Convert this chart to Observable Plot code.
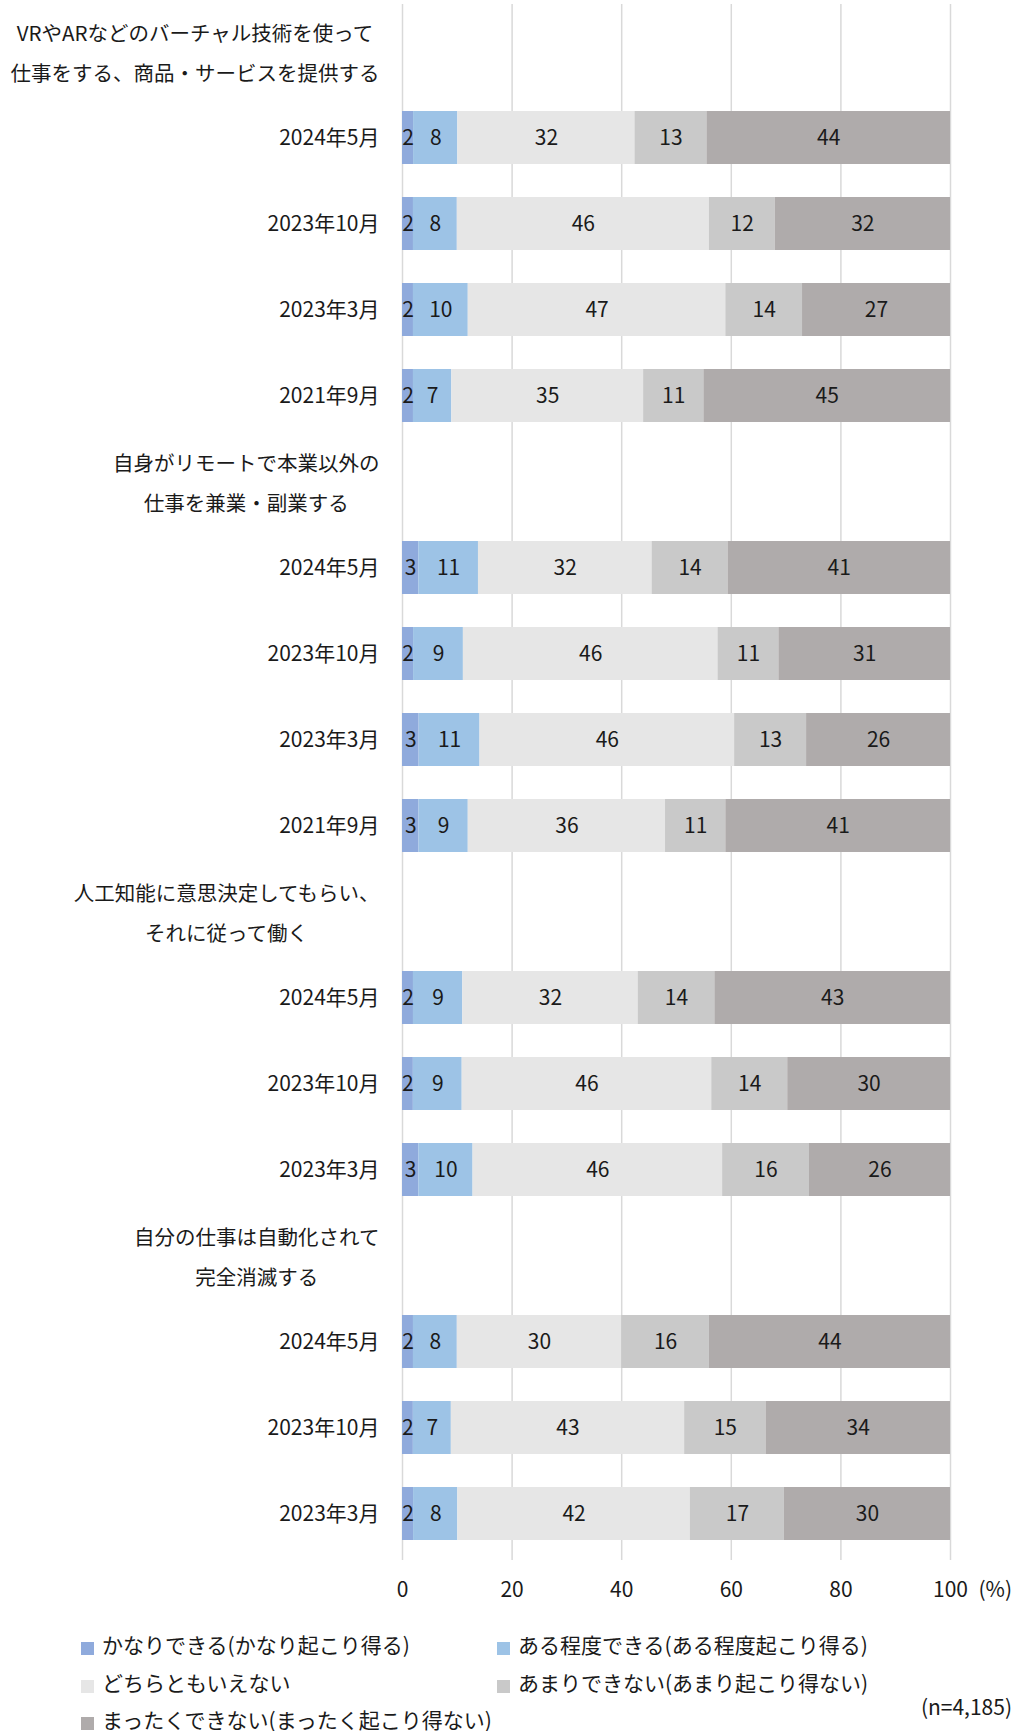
<!DOCTYPE html>
<html lang="ja">
<head>
<meta charset="utf-8">
<script src="https://cdn.jsdelivr.net/npm/d3@7"></script>
<script src="https://cdn.jsdelivr.net/npm/@observablehq/plot@0.6"></script>
<style>
  html, body { margin: 0; padding: 0; background: #fff; overflow: hidden; }
  body { position: relative; width: 1019px; height: 1731px; font-family: "Noto Sans CJK JP", "Noto Sans", sans-serif; color: #1a1a1a; }
  #chart { position: absolute; left: 0; top: 0; }
  #chart svg { display: block; }
  #legend { position: absolute; left: 81px; top: 1626px; width: 938px; font-size: 21px; line-height: 37.5px;
            display: grid; grid-template-columns: 416px auto; }
  #legend .item { white-space: nowrap; }
  #legend .sw { display: inline-block; width: 13px; height: 13px; margin-right: 8px; vertical-align: -2px; }
  #note { position: absolute; right: 7px; top: 1688px; font-size: 21px; line-height: 37.5px; }
</style>
</head>
<body>
<div id="chart"></div>
<div id="legend"></div>
<div id="note"></div>
<script>
// Answer categories (stack order, left to right) and their colours
const categories = [
  "かなりできる(かなり起こり得る)",
  "ある程度できる(ある程度起こり得る)",
  "どちらともいえない",
  "あまりできない(あまり起こり得ない)",
  "まったくできない(まったく起こり得ない)"
];
const colors = ["#8faadc", "#9dc3e6", "#e6e6e6", "#c9c9c9", "#afabab"];

// Question titles (two lines each)
const groupTitles = [
  "VRやARなどのバーチャル技術を使って\n仕事をする、商品・サービスを提供する",
  "自身がリモートで本業以外の\n仕事を兼業・副業する",
  "人工知能に意思決定してもらい、\nそれに従って働く",
  "自分の仕事は自動化されて\n完全消滅する"
];

// Survey waves shown for each question
const periodsLong = ["2024年5月", "2023年10月", "2023年3月", "2021年9月"];
const periodsShort = ["2024年5月", "2023年10月", "2023年3月"];

// Percentages per wave, in category order
const vrarValues = [[2, 8, 32, 13, 44], [2, 8, 46, 12, 32], [2, 10, 47, 14, 27], [2, 7, 35, 11, 45]];
const remoteValues = [[3, 11, 32, 14, 41], [2, 9, 46, 11, 31], [3, 11, 46, 13, 26], [3, 9, 36, 11, 41]];
const aiValues = [[2, 9, 32, 14, 43], [2, 9, 46, 14, 30], [3, 10, 46, 16, 26]];
const automationValues = [[2, 8, 30, 16, 44], [2, 7, 43, 15, 34], [2, 8, 42, 17, 30]];

const sampleNote = "(n=4,185)";
const unitLabel = "(%)";
const xTicks = [0, 0.2, 0.4, 0.6, 0.8, 1];

// Build rows: one title row per question, then one row per survey wave
const groups = [
  {title: groupTitles[0], periods: periodsLong, values: vrarValues},
  {title: groupTitles[1], periods: periodsLong, values: remoteValues},
  {title: groupTitles[2], periods: periodsShort, values: aiValues},
  {title: groupTitles[3], periods: periodsShort, values: automationValues}
];
const rowKeys = [];
const titleRows = [];
const waveRows = [];
const segments = [];
groups.forEach((g, gi) => {
  const tKey = `q${gi}`;
  rowKeys.push(tKey);
  titleRows.push({key: tKey, label: g.title});
  g.periods.forEach((p, pi) => {
    const key = `q${gi}-${p}`;
    rowKeys.push(key);
    waveRows.push({key, label: p});
    g.values[pi].forEach((v, ci) => segments.push({key, cat: categories[ci], value: v}));
  });
});

const textColor = "#1a1a1a";
const stackOpts = {offset: "normalize", x: "value", y: "key", z: "cat"};

const plot = Plot.plot({
  width: 1019,
  height: 1620,
  marginTop: 4,
  marginBottom: 60,
  marginLeft: 402,
  marginRight: 69,
  style: {fontFamily: "'Noto Sans CJK JP', 'Noto Sans', sans-serif", fontSize: "21px", color: textColor, background: "#fff"},
  x: {domain: [0, 1], label: null},
  y: {domain: rowKeys, paddingInner: 0.386, paddingOuter: 0.193, axis: null},
  color: {domain: categories, range: colors},
  marks: [
    Plot.gridX(xTicks, {stroke: "#d9d9d9", strokeOpacity: 1, strokeWidth: 1.5}),
    Plot.barX(segments, Plot.stackX({...stackOpts, fill: "cat"})),
    Plot.text(segments, Plot.stackX({...stackOpts, text: d => String(d.value), fill: textColor})),
    Plot.axisX(xTicks, {label: null, tickSize: 0, tickPadding: 22, tickFormat: d => String(Math.round(d * 100)), fill: textColor}),
    Plot.text([1], {x: d => d, frameAnchor: "bottom", lineAnchor: "top", dy: 22, dx: 28, textAnchor: "start",
      text: () => unitLabel, fill: textColor}),
    Plot.text(waveRows, {y: "key", text: "label", frameAnchor: "left", dx: -23, textAnchor: "end", fill: textColor}),
    Plot.text(titleRows, {y: "key", text: "label", frameAnchor: "left", dx: -23, dy: -4, textAnchor: "end",
      fontSize: 20.5, lineHeight: 1.95, fill: textColor, ariaDescription: "group-titles"})
  ]
});
document.getElementById("chart").appendChild(plot);

// Centre the lines of each question title while keeping the block's right edge
plot.querySelectorAll('g[aria-description="group-titles"] text').forEach(t => {
  const w = t.getBBox().width;
  t.setAttribute("text-anchor", "middle");
  const tr = t.getAttribute("transform") || "";
  t.setAttribute("transform", `${tr} translate(${-w / 2},0)`);
});

// Legend
const legend = document.getElementById("legend");
categories.forEach((c, i) => {
  const item = document.createElement("div");
  item.className = "item";
  const sw = document.createElement("span");
  sw.className = "sw";
  sw.style.background = colors[i];
  item.appendChild(sw);
  item.appendChild(document.createTextNode(c));
  legend.appendChild(item);
});
document.getElementById("note").textContent = sampleNote;
</script>
</body>
</html>
